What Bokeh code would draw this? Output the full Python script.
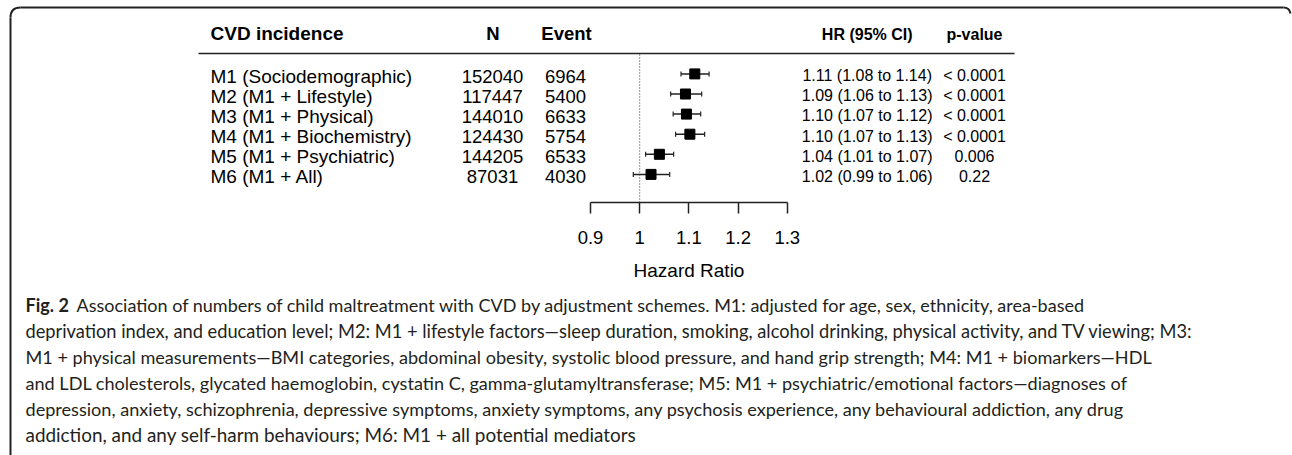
from bokeh.plotting import figure
from bokeh.models import Range1d, LinearAxis, FixedTicker, ColumnDataSource
from bokeh.core.properties import value
from bokeh.embed import file_html
from bokeh.resources import INLINE

# ---------------- data ----------------
models = ["M1 (Sociodemographic)", "M2 (M1 + Lifestyle)", "M3 (M1 + Physical)",
          "M4 (M1 + Biochemistry)", "M5 (M1 + Psychiatric)", "M6 (M1 + All)"]
n_vals = ["152040", "117447", "144010", "124430", "144205", "87031"]
events = ["6964", "5400", "6633", "5754", "6533", "4030"]
hr = [1.112, 1.093, 1.095, 1.102, 1.040, 1.023]
hr_lo = [1.084, 1.063, 1.068, 1.073, 1.012, 0.987]
hr_hi = [1.141, 1.126, 1.124, 1.132, 1.069, 1.061]
hr_text = ["1.11 (1.08 to 1.14)", "1.09 (1.06 to 1.13)", "1.10 (1.07 to 1.12)",
           "1.10 (1.07 to 1.13)", "1.04 (1.01 to 1.07)", "1.02 (0.99 to 1.06)"]
p_text = ["< 0.0001", "< 0.0001", "< 0.0001", "< 0.0001", "0.006", "0.22"]
ticks = [0.9, 1, 1.1, 1.2, 1.3]
tick_labels = ["0.9", "1", "1.1", "1.2", "1.3"]
headers = ["CVD incidence", "N", "Event", "HR (95% CI)", "p-value"]
axis_title = "Hazard Ratio"
caption_bold = "Fig. 2"
caption_lines = [
    "Association of numbers of child maltreatment with CVD by adjustment schemes. M1: adjusted for age, sex, ethnicity, area-based",
    "deprivation index, and education level; M2: M1 + lifestyle factors\u2014sleep duration, smoking, alcohol drinking, physical activity, and TV viewing; M3:",
    "M1 + physical measurements\u2014BMI categories, abdominal obesity, systolic blood pressure, and hand grip strength; M4: M1 + biomarkers\u2014HDL",
    "and LDL cholesterols, glycated haemoglobin, cystatin C, gamma-glutamyltransferase; M5: M1 + psychiatric/emotional factors\u2014diagnoses of",
    "depression, anxiety, schizophrenia, depressive symptoms, anxiety symptoms, any psychosis experience, any behavioural addiction, any drug",
    "addiction, and any self-harm behaviours; M6: M1 + all potential mediators",
]

# ---------------- layout helpers ----------------
W, H = 1292, 455
# HR scale: 0.9 -> x 590, 0.1 HR = 49.2 px
hr_per_px = 0.1 / 49.2
hr_start = 0.9 - 590 * hr_per_px
hr_end = 0.9 + (W - 590) * hr_per_px

row_y = [73.4 + 20.1 * i for i in range(len(models))]

p = figure(width=W, height=H, output_backend="svg", toolbar_location=None,
           x_range=Range1d(hr_start, hr_end), y_range=Range1d(H, 0),
           x_axis_location=None, y_axis_location=None, min_border=0)
p.extra_x_ranges = {"px": Range1d(0, W)}
p.outline_line_color = None
p.grid.visible = False
p.background_fill_color = "white"
p.border_fill_color = "white"

FONT = value("Liberation Sans")
CAP_FONT = value("Lato")
DARK = "#222222"

# ---- frame (top and left border with rounded corners) ----
p.segment(x0=[20], y0=[7], x1=[1283], y1=[7], x_range_name="px", line_color=DARK, line_width=2)
p.segment(x0=[10], y0=[17], x1=[10], y1=[H], x_range_name="px", line_color=DARK, line_width=2)
p.quadratic(x0=[10], y0=[17], x1=[20], y1=[7], cx=[10], cy=[7], x_range_name="px",
            line_color=DARK, line_width=2)
p.quadratic(x0=[1283], y0=[7], x1=[1290], y1=[13], cx=[1289], cy=[7], x_range_name="px",
            line_color=DARK, line_width=2)

# ---- header ----
p.text(x=[210], y=[33], text=[headers[0]], x_range_name="px", text_font=FONT,
       text_font_size="19px", text_font_style="bold", text_align="left",
       text_baseline="middle", text_color="black")
p.text(x=[492.5, 566], y=[33, 33], text=headers[1:3], x_range_name="px", text_font=FONT,
       text_font_size="18.5px", text_font_style="bold", text_align="center",
       text_baseline="middle", text_color="black")
p.text(x=[866.7, 974], y=[34.2, 34.2], text=headers[3:5], x_range_name="px", text_font=FONT,
       text_font_size="16px", text_font_style="bold", text_align="center",
       text_baseline="middle", text_color="black")
p.segment(x0=[198], y0=[53], x1=[1014], y1=[53], x_range_name="px", line_color=DARK, line_width=1.5)

# ---- table columns ----
src = ColumnDataSource(dict(
    y_txt=[y + 2.2 for y in row_y], y_txt2=[y + 1.8 for y in row_y], y=row_y,
    model=models, n=n_vals, ev=events, hrt=hr_text, pt=p_text,
    hr=hr, lo=hr_lo, hi=hr_hi,
    x_lab=[210] * 6, x_n=[492] * 6, x_ev=[565] * 6, x_hr=[866.7] * 6, x_p=[974] * 6,
    cap_lo=[y - 2.5 for y in row_y], cap_hi=[y + 2.5 for y in row_y],
))
p.text(x="x_lab", y="y_txt", text="model", source=src, x_range_name="px", text_font=FONT,
       text_font_size="19px", text_align="left", text_baseline="middle", text_color="black")
p.text(x="x_n", y="y_txt", text="n", source=src, x_range_name="px", text_font=FONT,
       text_font_size="18.5px", text_align="center", text_baseline="middle", text_color="black")
p.text(x="x_ev", y="y_txt", text="ev", source=src, x_range_name="px", text_font=FONT,
       text_font_size="18.5px", text_align="center", text_baseline="middle", text_color="black")
p.text(x="x_hr", y="y_txt2", text="hrt", source=src, x_range_name="px", text_font=FONT,
       text_font_size="16px", text_align="center", text_baseline="middle", text_color="black")
p.text(x="x_p", y="y_txt2", text="pt", source=src, x_range_name="px", text_font=FONT,
       text_font_size="16px", text_align="center", text_baseline="middle", text_color="black")

# ---- forest plot (HR scale) ----
p.segment(x0=[1], y0=[54], x1=[1], y1=[202], line_color="#333333", line_width=1, line_dash="1 2")
p.segment(x0="lo", y0="y", x1="hi", y1="y", source=src, line_color=DARK, line_width=1.5)
p.segment(x0="lo", y0="cap_lo", x1="lo", y1="cap_hi", source=src, line_color=DARK, line_width=1.2)
p.segment(x0="hi", y0="cap_lo", x1="hi", y1="cap_hi", source=src, line_color=DARK, line_width=1.2)
p.scatter(x="hr", y="y", source=src, marker="square", size=10, fill_color="black", line_color="black")

xaxis = LinearAxis(fixed_location=202, bounds=(ticks[0], ticks[-1]),
                   ticker=FixedTicker(ticks=ticks, minor_ticks=[]),
                   major_label_overrides=dict(zip(ticks, tick_labels)),
                   axis_label=axis_title)
xaxis.axis_line_color = DARK
xaxis.axis_line_width = 1.5
xaxis.major_tick_line_color = DARK
xaxis.major_tick_line_width = 1.5
xaxis.major_tick_out = 11
xaxis.major_tick_in = 0
xaxis.minor_tick_line_color = None
xaxis.major_label_standoff = 17
xaxis.major_label_text_font = "Liberation Sans"
xaxis.major_label_text_font_size = "18.5px"
xaxis.major_label_text_color = "black"
xaxis.axis_label_text_font = "Liberation Sans"
xaxis.axis_label_text_font_size = "19px"
xaxis.axis_label_text_font_style = "normal"
xaxis.axis_label_text_color = "black"
xaxis.axis_label_standoff = 13
p.add_layout(xaxis, "below")

# ---- caption ----
cap_y = [304 + 26 * i for i in range(len(caption_lines))]
cap_x = [76] + [25] * (len(caption_lines) - 1)
cap_sizes = ["18px", "18.25px", "18.1px", "18.1px", "18.1px", "18.9px"]
p.text(x=[25], y=[cap_y[0]], text=[caption_bold], x_range_name="px", text_font=CAP_FONT,
       text_font_size="18px", text_font_style="bold", text_align="left",
       text_baseline="middle", text_color="#231f20")
for cx, cy, line, fs in zip(cap_x, cap_y, caption_lines, cap_sizes):
    p.text(x=[cx], y=[cy], text=[line], x_range_name="px",
           text_font=CAP_FONT, text_font_size=fs, text_align="left",
           text_baseline="middle", text_color="#231f20")

open("out.html", "w").write(file_html(p, INLINE))
